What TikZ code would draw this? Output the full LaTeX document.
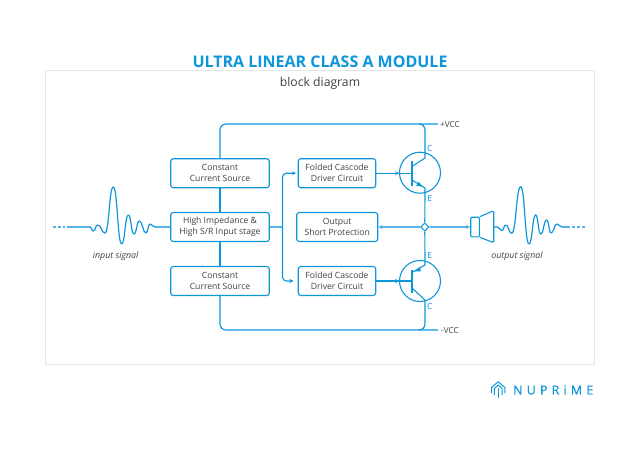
\documentclass[tikz,border=0pt]{standalone}
\usepackage{fontspec}
\setmainfont{Open Sans}
\usetikzlibrary{arrows.meta,shapes.geometric}
\definecolor{npblue}{HTML}{0E96DA}
\definecolor{npsoft}{HTML}{55B2E6}
\definecolor{nptext}{HTML}{404040}
\definecolor{npframe}{HTML}{E4E6E8}
\tikzset{
  blockbox/.style={draw=npblue,line width=1.15pt,rounded corners=2.6pt,fill=white,inner sep=0pt,
    text=nptext,align=center,font=\fontsize{8.6}{11}\selectfont,
    execute at begin node={\rule{0pt}{8.4pt}}},
  wire/.style={draw=npblue,line width=1.15pt},
  softwire/.style={draw=npsoft,line width=1.6pt},
  tip/.style={-{Stealth[length=4pt,width=4pt]}},
  wave/.style={draw=npblue,line width=1.2pt,line cap=round,line join=round},
  siglabel/.style={text=nptext,font=\fontsize{8.8}{10}\selectfont\itshape},
  pinlabel/.style={text=npblue,font=\fontsize{8.4}{9}\selectfont,inner sep=0pt},
  rail/.style={text=nptext,font=\fontsize{8.2}{9}\selectfont,inner sep=0pt,anchor=west},
  xstor/.style={draw=npblue,line width=1.1pt}
}
\begin{document}
\begin{tikzpicture}[x=1pt,y=-1pt]
\useasboundingbox (0,0) rectangle (640,452);
% frame and headings
\draw[npframe,line width=0.9pt] (45.5,70) rectangle (594.5,364);
\node[fill=white,inner xsep=6pt,inner ysep=1pt,text=npblue,font=\fontsize{16}{18}\selectfont\bfseries] (title) at (320,61.8) {ULTRA LINEAR CLASS A MODULE};
\node[text=nptext,font=\fontsize{12.2}{14}\selectfont,inner sep=0pt] (subtitle) at (320,83.6) {block diagram};
% blocks
\node[blockbox,minimum width=98.6pt,minimum height=29pt] (cs1) at (220,173.2) {Constant\\Current Source};
\node[blockbox,minimum width=98.6pt,minimum height=29pt] (hi) at (220,227) {High Impedance \&\\High S/R Input stage};
\node[blockbox,minimum width=98.6pt,minimum height=29pt] (cs2) at (220,281) {Constant\\Current Source};
\node[blockbox,minimum width=77.4pt,minimum height=29pt] (fc1) at (337,173.2) {Folded Cascode\\Driver Circuit};
\node[blockbox,minimum width=81pt,minimum height=29pt] (osp) at (337.2,227) {Output\\Short Protection};
\node[blockbox,minimum width=77.4pt,minimum height=29pt] (fc2) at (337,281) {Folded Cascode\\Driver Circuit};
% transistors
\node[circle,xstor,minimum size=41pt,inner sep=0pt] (q1) at (420,172.7) {};
\node[circle,xstor,minimum size=41pt,inner sep=0pt] (q2) at (420,281) {};
\coordinate (b1) at (412,173.2);
\coordinate (b2) at (412,281);
\coordinate (c1) at (425,158);
\coordinate (e1) at (425,188);
\coordinate (e2) at (425,265);
\coordinate (c2) at (425,300);
\node[diamond,draw=npblue,line width=1.1pt,fill=white,minimum size=8.5pt,inner sep=0pt] (jn) at (424.8,227) {};
\coordinate (vp) at (438,124);
\coordinate (vn) at (438,330);
\coordinate (bus) at (282.5,227);
% transistor 1
\draw[xstor] (412,160.5) -- (412,185.5);
\draw[xstor] (b1 |- 0,166.5) -- (c1);
\draw[xstor] (b1 |- 0,180) -- (e1);
\fill[npblue] (422,186.4) -- (416.2,186) -- (418.6,181.6) -- cycle;
\draw[wire,tip] (fc1.east) -- (399,173.2);
\draw[wire] (398,173.2) -- (b1);
% transistor 2
\draw[xstor] (412,269.5) -- (412,292.5);
\draw[xstor] (b2 |- 0,272.5) -- (e2);
\draw[xstor] (b2 |- 0,288) -- (c2);
\fill[npblue] (414,271.4) -- (419.6,267) -- (421,271.4) -- cycle;
\draw[wire,tip] (fc2.east) -- (399,281);
\draw[wire] (398,281) -- (b2);
% supply rails
\draw[wire,rounded corners=6pt] (cs1.north) -- (cs1.north |- vp) -- (vp);
\draw[wire,rounded corners=6pt] (cs2.south) -- (cs2.south |- vn) -- (vn);
\draw[wire,rounded corners=6pt] (c1) -- (c1 |- vp) -- (419,124);
\draw[wire,rounded corners=6pt] (c2) -- (c2 |- vn) -- (419,330);
\draw[wire] (cs1.south) -- (hi.north);
\draw[wire] (hi.south) -- (cs2.north);
\draw[wire] (e1) -- (jn.north);
\draw[wire] (jn.south) -- (e2);
% driver feeds
\draw[softwire] (hi.east) -- (bus);
\draw[wire,rounded corners=4pt,tip] (bus) -- (282.5,173.2) -- (296,173.2);
\draw[wire,rounded corners=4pt,tip] (bus) -- (282.5,281) -- (293.5,281);
% output junction
\draw[softwire,tip] (jn.west) -- (osp.east);
% speaker
\node[draw=npblue,line width=1.1pt,rounded corners=1pt,minimum width=8.6pt,minimum height=19.6pt,inner sep=0pt] (spk) at (475,227) {};
\draw[softwire,tip] (jn.east) -- (spk.west);
\draw[npblue,line width=1.1pt,rounded corners=1.4pt] (spk.north east) -- (493.7,210.7) -- (493.7,242.7) -- (spk.south east);
\coordinate (spkout) at (493.7,227);
% waves
\draw[wave] (spkout) -- (497.5,227) foreach \x/\y [remember=\x as \px (initially 497.5),remember=\y as \py (initially 227)] in {501.7/230.7,505.7/225,511.7/233.3,520.7/186.7,529/244,535.7/215,540.7/234,546.7/220,551/233,557/224,561.7/227} { .. controls ({(\px+\x)/2},\py) and ({(\px+\x)/2},\y) .. (\x,\y) };
\coordinate (outend) at (561.7,227);
\coordinate (outdash) at (570,227);
\coordinate (outfar) at (586,227);
\draw[softwire] (outend) -- (outdash);
\draw[softwire,dash pattern=on 3pt off 2pt] (outdash) ++(1.5,0) -- (outfar);
\coordinate (inend) at (155,227);
\coordinate (instart) at (67,227);
\coordinate (infar) at (53,227);
\draw[softwire,dash pattern=on 3pt off 2pt] (infar) -- ++(12,0);
\draw[softwire] (instart) -- (90,227);
\draw[wave] (90,227) foreach \x/\y [remember=\x as \px (initially 90),remember=\y as \py (initially 227)] in {93.3/231,97.7/225,105/233,113.3/187,121.7/244,128.3/215,134/234,139.3/221,146/233,150/224,155/227} { .. controls ({(\px+\x)/2},\py) and ({(\px+\x)/2},\y) .. (\x,\y) };
\draw[softwire] (inend) -- (hi.west);
% labels
\node[siglabel] (inlab) at (115.7,256.2) {input signal};
\node[siglabel] (outlab) at (517,256.2) {output signal};
\node[pinlabel] (lc1) at (429.8,148) {C};
\node[pinlabel] (le1) at (429.8,198.4) {E};
\node[pinlabel] (le2) at (429.8,255.4) {E};
\node[pinlabel] (lc2) at (429.8,306) {C};
\node[rail] (lvp) at (440,124.6) {+VCC};
\node[rail] (lvn) at (441,330.6) {-VCC};
% logo
\draw[npblue,line width=1pt,line join=round] (491.5,393) -- (491.5,387.5) -- (498.2,381.8) -- (504.9,387.5) -- (504.9,393);
\draw[npblue,line width=1pt,line join=round] (494.3,395) -- (494.3,388.5) -- (498.2,385) -- (502.1,388.5) -- (502.1,395);
\draw[npblue,line width=1.2pt] (498.2,388) -- (498.2,398);
\node[text=npblue,inner sep=0pt,anchor=west,font={\fontsize{12.4}{13}\selectfont\addfontfeature{LetterSpace=34,FakeBold=0.6}}] (logo) at (513,390) {NUPRiME};
\end{tikzpicture}
\end{document}
